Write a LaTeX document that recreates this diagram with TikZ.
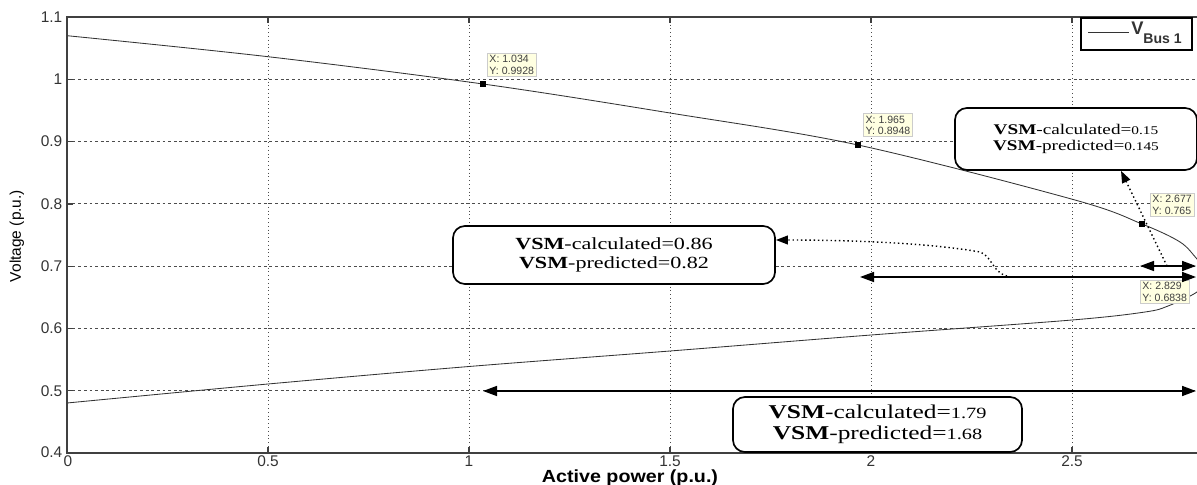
\documentclass[tikz,border=0pt]{standalone}
\usepackage{fontspec}
\setmainfont{Liberation Sans}
\newfontfamily\boxfont[FakeStretch=1.3]{Liberation Serif}
\newfontfamily\labfont[FakeStretch=1.12]{Liberation Sans}
\usetikzlibrary{arrows.meta, positioning, calc}

\newcommand{\vsmval}[1]{\scalebox{0.8}{#1}}

\tikzset{
  frame/.style={draw=black!75, line width=0.9pt},
  vgrid/.style={black!70, dotted, line width=0.7pt},
  hgrid/.style={black!70, dash pattern=on 2pt off 2pt, line width=0.6pt},
  curve/.style={black!80, line width=0.6pt},
  ticklab/.style={font=\fontsize{11}{12}\selectfont, text=black!80, inner sep=1pt},
  tipbox/.style={draw=black!20, fill={rgb,255:red,255;green,255;blue,225}, text=black!75,
    font=\fontsize{7.5}{8}\selectfont, align=left, inner sep=1.5pt, anchor=south west},
  marker/.style={fill=black, minimum size=0.17cm, inner sep=0pt},
  vsmbox/.style={draw, fill=white, line width=1.2pt, rounded corners=0.3cm, align=center, inner sep=0pt},
  span/.style={line width=1.1pt, {Triangle[length=0.35cm,width=0.25cm]}-{Triangle[length=0.35cm,width=0.25cm]}},
  dottip/.style={dotted, line width=1pt, -{Triangle[length=0.3cm,width=0.22cm]}}
}

\begin{document}
\begin{tikzpicture}[x=0.025cm, y=-0.025cm]
\useasboundingbox (0,0) rectangle (1197,485);

% grid
\foreach \u in {0.5,1,1.5,2,2.5}{
  \draw[vgrid] ({67+\u*402},17) -- ({67+\u*402},453);
  \draw[frame] ({67+\u*402},453) -- ++(0,-6) ({67+\u*402},17) -- ++(0,6);
  \node[ticklab, anchor=north] at ({67+\u*402},454) {\u};
}
\foreach \v in {0.5,0.6,0.7,0.8,0.9,1}{
  \draw[hgrid] (67,{17+(1.1-\v)*622.9}) -- (1197,{17+(1.1-\v)*622.9});
  \draw[frame] (67,{17+(1.1-\v)*622.9}) -- ++(6,0);
  \node[ticklab, anchor=east] at (64,{17+(1.1-\v)*622.9}) {\v};
}
\node[ticklab, anchor=east] at (64,17) {1.1};
\node[ticklab, anchor=east] at (64,452) {0.4};
\node[ticklab, anchor=north] at (68,454) {0};

% PV curve
\begin{scope}
  \clip (67,17) rectangle (1197,453);
  \draw[curve] plot[smooth, tension=0.55] coordinates {(67,35.7) (268,56.7) (483,84) (670,113) (858,145)
    (1075,200) (1142,224) (1180,242) (1197,259) (1212,276) (1197,292) (1168,306) (1145,312)
    (1072,320) (871,335) (670,351) (469,366.5) (268,384) (67,403)};
\end{scope}
\draw[frame] (1197,17) -- (67,17) -- (67,453) -- (1197,453);

\node[font=\fontsize{11}{12}\selectfont, rotate=90] (ylab) at (17,236) {Voltage (p.u.)};
\node[font=\labfont\fontsize{12.5}{14}\selectfont\bfseries] (xlab) at (630,478) {Active power (p.u.)};

% legend
\node[draw, fill=white, line width=0.8pt, minimum width=2.775cm, minimum height=0.8cm] (leg) at (1136.5,34) {};
\draw[curve] ([xshift=0.2cm, yshift=0.03cm]leg.west) -- ++(41,0)
  node[right, inner sep=1pt, font=\bfseries] (legtxt) {\fontsize{13}{15}\selectfont V\raisebox{-0.23cm}{\fontsize{10}{12}\selectfont Bus 1}};

% data tips
\node[marker] (mkA) at (483,84) {};
\node[marker] (mkB) at (858,145) {};
\node[marker] (mkC) at (1142,224) {};
\node[tipbox, above right=0.09cm and 0.01cm of mkA.north east] (tipA) {X: 1.034\\Y: 0.9928};
\node[tipbox, above right=0.11cm and 0.04cm of mkB.north east] (tipB) {X: 1.965\\Y: 0.8948};
\node[tipbox, above right=0.09cm and 0.11cm of mkC.north east] (tipC) {X: 2.677\\Y: 0.765};
\coordinate (nose) at (1204,276);
\node[tipbox, anchor=north west] (tipD) at (1140,280) {X: 2.829\\Y: 0.6838};

% margins
\coordinate (aL) at (1140,266); \coordinate (aR) at (1196,266); \coordinate (qA) at (1167,266);
\coordinate (bL) at (860,277);  \coordinate (bR) at (1196,277); \coordinate (qB) at (1007,276);
\coordinate (cL) at (483,391);  \coordinate (cR) at (1196,391);
\draw[span] (aL) -- (aR);
\draw[span] (bL) -- (bR);
\draw[span] (cL) -- (cR);

\node[vsmbox, font=\boxfont\fontsize{10.5}{11.4}\selectfont, minimum width=6.05cm, minimum height=1.55cm] (vsmA) at (1076,139)
  {\textbf{VSM}-calculated=\vsmval{0.15}\\\textbf{VSM}-predicted=\vsmval{0.145}};
\node[vsmbox, font=\boxfont\fontsize{12.1}{13.5}\selectfont, minimum width=8.05cm, minimum height=1.45cm] (vsmB) at (614,255)
  {\textbf{VSM}-calculated=0.86\\\textbf{VSM}-predicted=0.82};
\node[vsmbox, font=\boxfont\fontsize{13.9}{15}\selectfont, minimum width=7.225cm, minimum height=1.375cm] (vsmC) at (877.5,424.5)
  {\textbf{VSM}-calculated=\vsmval{1.79}\\\textbf{VSM}-predicted=\vsmval{1.68}};

\draw[dottip] (qA) -- ([xshift=1.125cm]vsmA.south);
\draw[dottip] (qB) .. controls (992,272) and (992,256) .. (980,252) .. controls (930,243) and (850,240) .. ([yshift=0.375cm]vsmB.east);
\end{tikzpicture}
\end{document}
